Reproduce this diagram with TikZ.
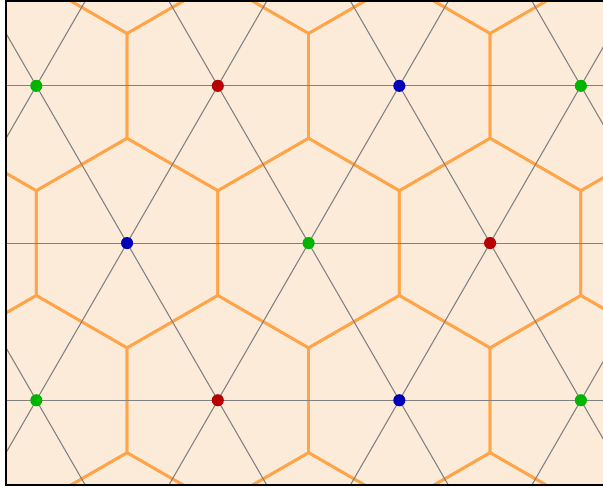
\documentclass[tikz,border=0pt]{standalone}

\definecolor{cellfill}{RGB}{253,235,218}
\definecolor{celledge}{RGB}{255,164,72}
\definecolor{site0}{RGB}{0,180,0}
\definecolor{site1}{RGB}{185,0,0}
\definecolor{site2}{RGB}{0,0,185}

\tikzset{
    cell/.style={draw=celledge, line width=1.3pt, line join=round},
    bond/.style={draw=black!50, line width=0.5pt},
    site/.style={circle, inner sep=0pt, minimum size=0.2cm}
}

\begin{document}
\begin{tikzpicture}[x=3cm, y=3cm]
    % Define the page and the frame
    \useasboundingbox (-1.70,-1.345) rectangle (1.622,1.339);
    \clip (-1.70,-1.345) rectangle (1.622,1.339);
    \coordinate (SW) at (-5/3,-4/3);
    \coordinate (NE) at (5/3,4/3);

    \fill[cellfill] (SW) rectangle (NE);

    \begin{scope}
        \clip (SW) rectangle (NE);

        % Draw the hexagonal cells
        \foreach \i in {-3,...,3}
            \foreach \j in {-2,...,2}
                \draw[cell] (\i+0.5*\j, 0.8660*\j) +(30:0.5774) -- +(90:0.5774) -- +(150:0.5774)
                    -- +(210:0.5774) -- +(270:0.5774) -- +(330:0.5774) -- cycle;

        % Draw the lattice lines
        \foreach \j in {-2,...,2}
            \draw[bond] (-2.5, 0.8660*\j) -- (2.5, 0.8660*\j);
        \foreach \i in {-3,...,3} {
            \draw[bond] (\i,0) +(240:3) -- +(60:3);
            \draw[bond] (\i,0) +(300:3) -- +(120:3);
        }

        % Place the lattice sites
        \foreach \i in {-3,...,3}
            \foreach \j in {-2,...,2} {
                \pgfmathtruncatemacro{\c}{mod(\i-\j+9,3)}
                \node[site, fill=site\c] (s\i\j) at (\i+0.5*\j, 0.8660*\j) {};
            }
    \end{scope}

    \draw[line width=0.9pt] (SW) rectangle (NE);

\end{tikzpicture}
\end{document}
